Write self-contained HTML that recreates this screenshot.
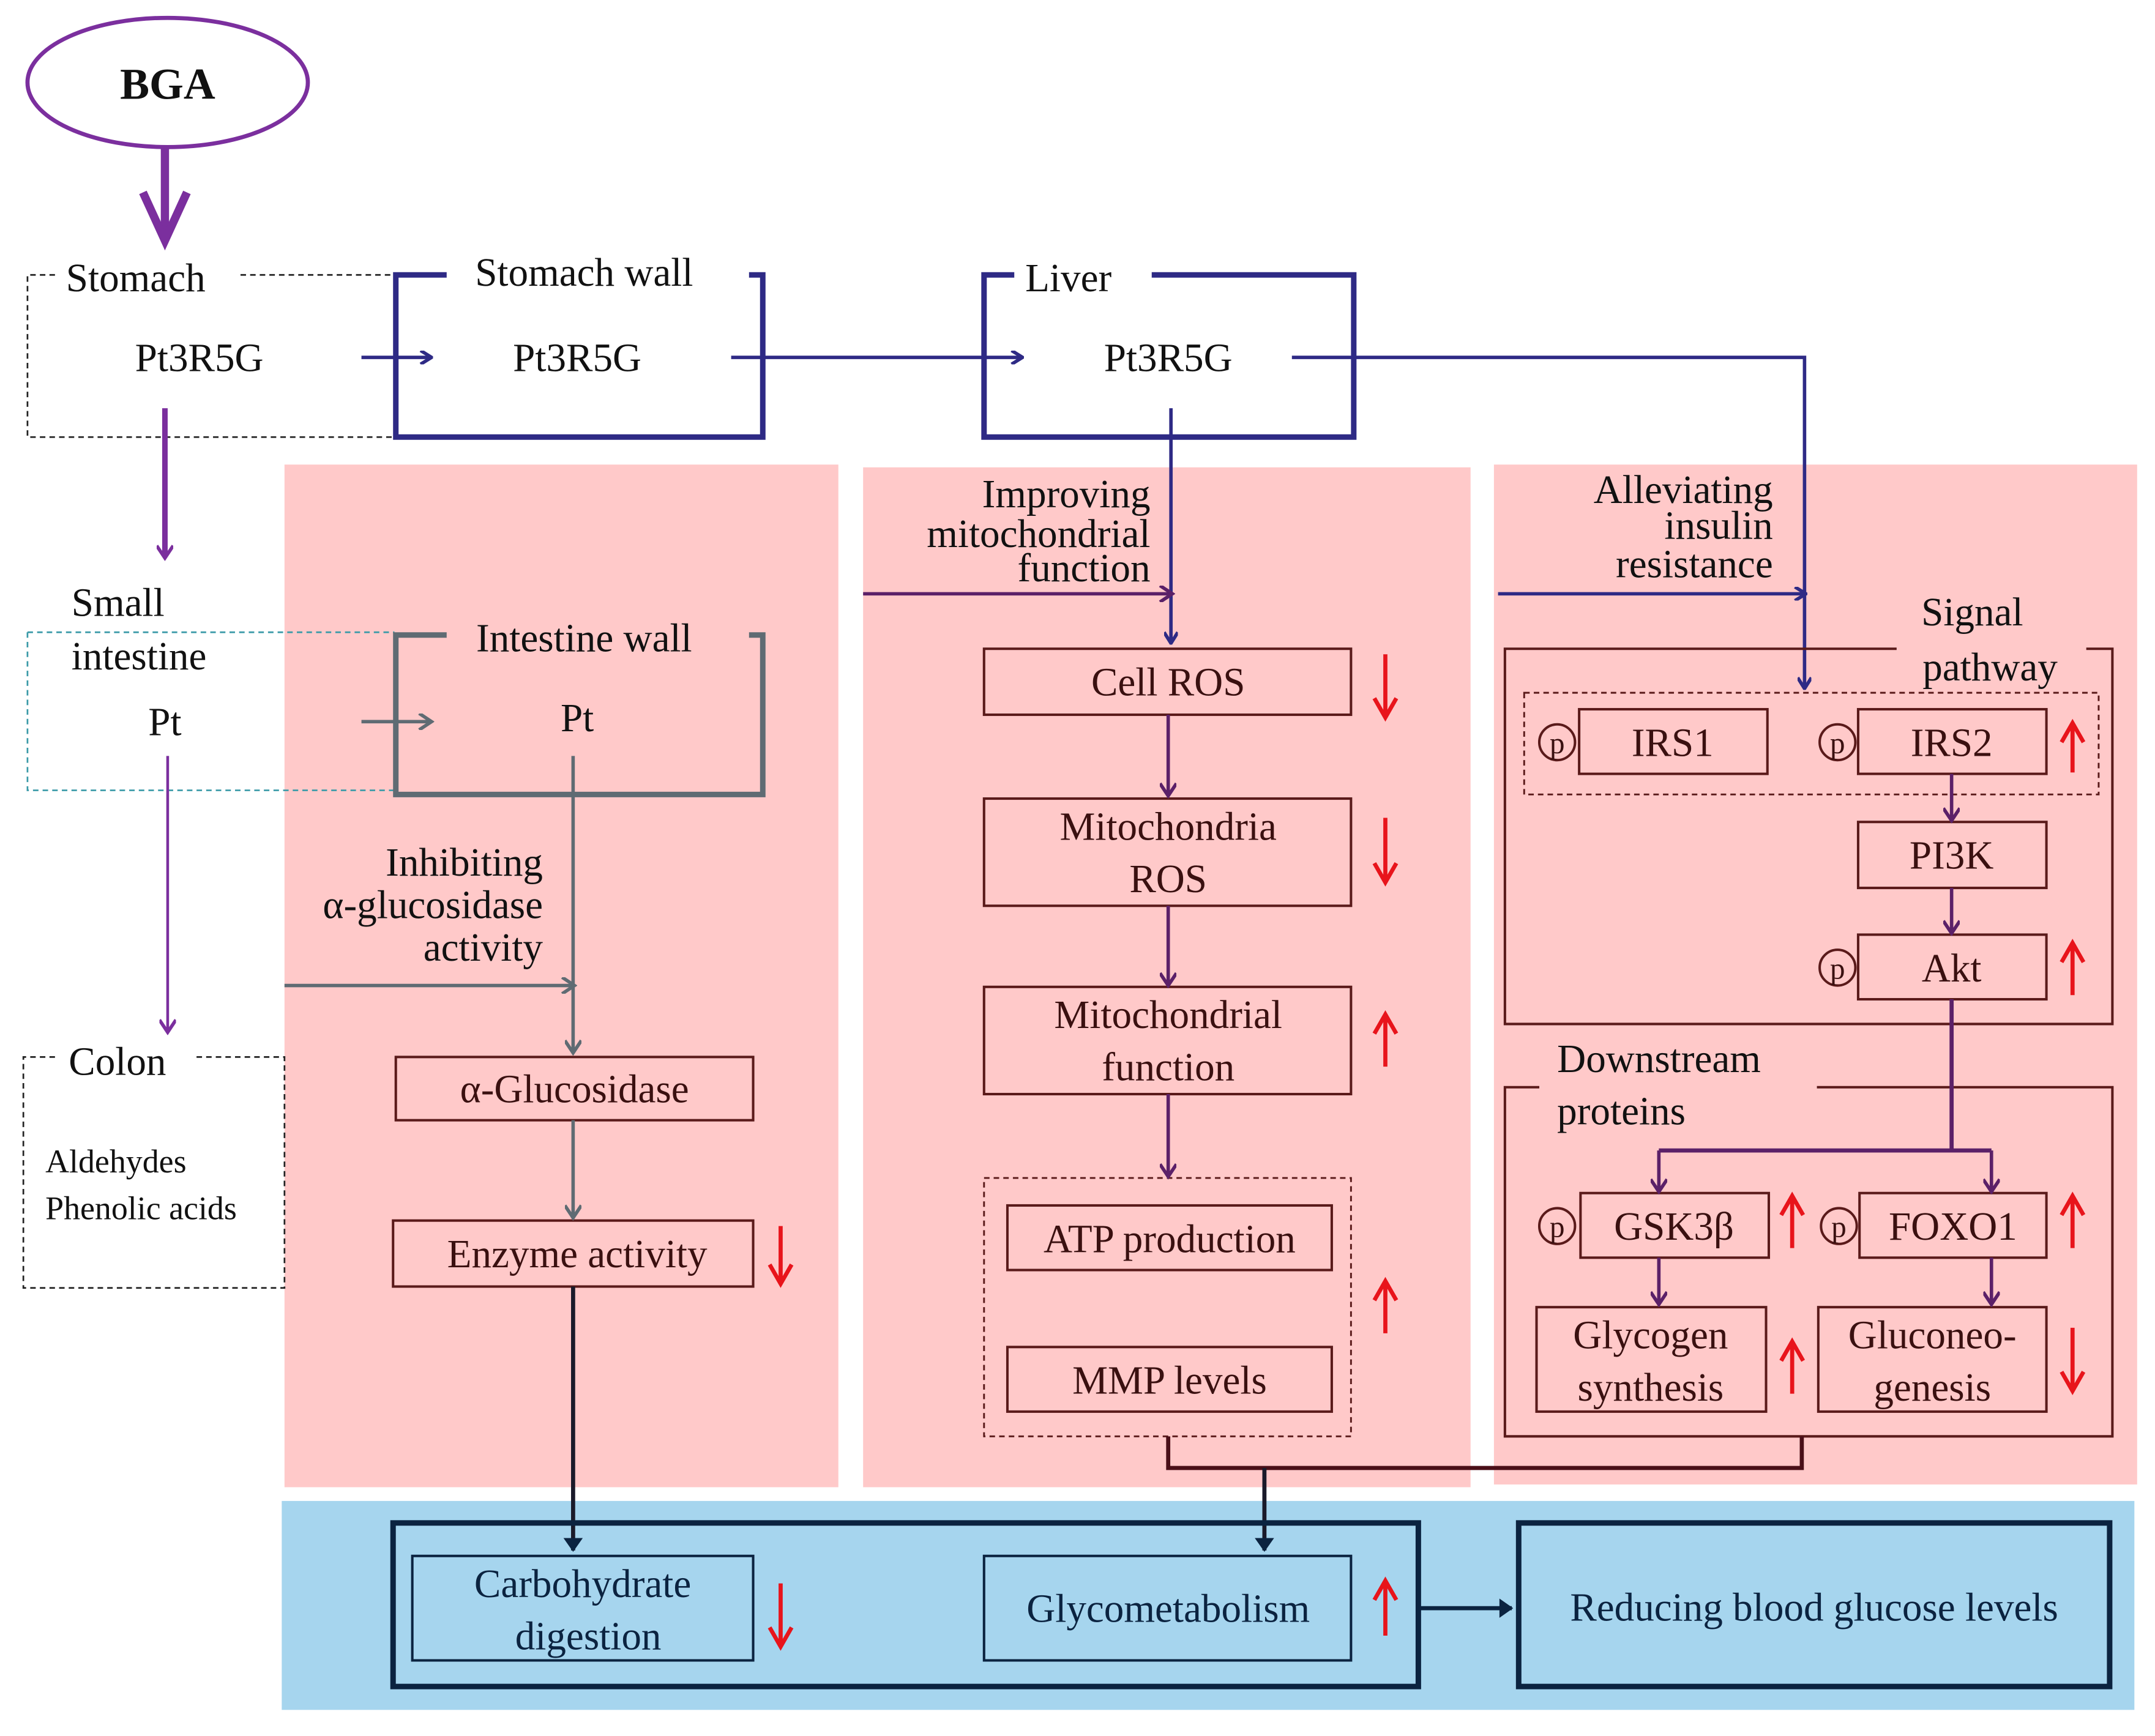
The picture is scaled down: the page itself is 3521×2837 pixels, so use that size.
<!DOCTYPE html>
<html><head><meta charset="utf-8"><style>
html,body{margin:0;padding:0;background:#fff;}
svg{display:block;}
svg, svg text{font-family:"Liberation Serif","DejaVu Serif",serif;}
</style></head><body>
<svg width="3521" height="2837" viewBox="0 0 1568 1263" preserveAspectRatio="none" xmlns="http://www.w3.org/2000/svg" font-family="'Liberation Serif', 'DejaVu Serif', serif">
<defs>
<marker id="an" markerWidth="10" markerHeight="10" refX="8" refY="5" orient="auto" markerUnits="userSpaceOnUse"><path d="M1,0 L9,5 L1,10" fill="none" stroke="#2E2A85" stroke-width="2.5"/></marker>
<marker id="ap" markerWidth="12" markerHeight="12" refX="9" refY="6" orient="auto" markerUnits="userSpaceOnUse"><path d="M1,0 L10,6 L1,12" fill="none" stroke="#7B2F9E" stroke-width="2.5"/></marker>
<marker id="am" markerWidth="12" markerHeight="12" refX="9" refY="6" orient="auto" markerUnits="userSpaceOnUse"><path d="M1,0 L10,6 L1,12" fill="none" stroke="#5B2068" stroke-width="2.5"/></marker>
<marker id="ag" markerWidth="12" markerHeight="12" refX="9" refY="6" orient="auto" markerUnits="userSpaceOnUse"><path d="M1,0 L10,6 L1,12" fill="none" stroke="#5F6B73" stroke-width="2.5"/></marker>
<marker id="ad" markerWidth="14" markerHeight="14" refX="10" refY="7" orient="auto" markerUnits="userSpaceOnUse"><path d="M1,0 L11,7 L1,14 Z" fill="#0B2340"/></marker>
</defs>
<g font-size="29" fill="#111" font-family="'Liberation Serif', 'DejaVu Serif', serif">
<rect x="207" y="338" width="403" height="744" fill="#FFC9C9"/>
<rect x="628" y="340" width="442" height="742" fill="#FFC9C9"/>
<rect x="1087" y="338" width="468" height="742" fill="#FFC9C9"/>
<rect x="205" y="1092" width="1348" height="152" fill="#A6D5EE"/>

<ellipse cx="122" cy="60" rx="102" ry="47" fill="none" stroke="#7B2F9E" stroke-width="3"/>
<text x="122" y="72" text-anchor="middle" font-weight="bold" font-size="32">BGA</text>
<line x1="120" y1="108" x2="120" y2="168" stroke="#7B2F9E" stroke-width="6"/>
<path d="M104,140 L120,175 L136,140" fill="none" stroke="#7B2F9E" stroke-width="6"/>

<path d="M40,200 H20 V318 H287 M175,200 H287" fill="none" stroke="#222" stroke-width="1.2" stroke-dasharray="4,3"/>
<text x="48" y="212">Stomach</text>
<text x="145" y="270" text-anchor="middle">Pt3R5G</text>
<line x1="263" y1="260" x2="313" y2="260" stroke="#2E2A85" stroke-width="2.5" marker-end="url(#an)"/>
<path d="M325,200 H288 V318 H555 V200 H545" fill="none" stroke="#2E2A85" stroke-width="4"/>
<text x="425" y="208" text-anchor="middle">Stomach wall</text>
<text x="420" y="270" text-anchor="middle">Pt3R5G</text>
<line x1="532" y1="260" x2="743" y2="260" stroke="#2E2A85" stroke-width="2.5" marker-end="url(#an)"/>
<path d="M738,200 H716 V318 H985 V200 H838" fill="none" stroke="#2E2A85" stroke-width="4"/>
<text x="746" y="212">Liver</text>
<text x="850" y="270" text-anchor="middle">Pt3R5G</text>
<path d="M940,260 H1313 V500" fill="none" stroke="#2E2A85" stroke-width="2.5" marker-end="url(#an)"/>
<line x1="852" y1="297" x2="852" y2="467" stroke="#2E2A85" stroke-width="2.5" marker-end="url(#an)"/>
<line x1="120" y1="297" x2="120" y2="405" stroke="#7B2F9E" stroke-width="4" marker-end="url(#ap)"/>

<text x="52" y="448">Small</text>
<text x="52" y="487">intestine</text>
<text x="120" y="535" text-anchor="middle">Pt</text>
<path d="M20,460 H287 M20,460 V575 H287" fill="none" stroke="#3A9AA8" stroke-width="1.2" stroke-dasharray="4,3"/>
<line x1="263" y1="525" x2="313" y2="525" stroke="#5F6B73" stroke-width="2.5" marker-end="url(#ag)"/>
<path d="M325,462 H288 V578 H555 V462 H545" fill="none" stroke="#5F6B73" stroke-width="4"/>
<text x="425" y="474" text-anchor="middle">Intestine wall</text>
<text x="420" y="532" text-anchor="middle">Pt</text>
<line x1="122" y1="550" x2="122" y2="750" stroke="#7B2F9E" stroke-width="2" marker-end="url(#ap)"/>

<path d="M40,769 H17 V937 H207 V769 H140" fill="none" stroke="#222" stroke-width="1.2" stroke-dasharray="4,3"/>
<text x="50" y="782">Colon</text>
<text x="33" y="853" font-size="24">Aldehydes</text>
<text x="33" y="887" font-size="24">Phenolic acids</text>

<line x1="417" y1="550" x2="417" y2="765" stroke="#5F6B73" stroke-width="2.5" marker-end="url(#ag)"/>
<text x="395" y="637" text-anchor="end">Inhibiting</text>
<text x="395" y="668" text-anchor="end">α-glucosidase</text>
<text x="395" y="699" text-anchor="end">activity</text>
<line x1="207" y1="717" x2="417" y2="717" stroke="#5F6B73" stroke-width="2.5" marker-end="url(#ag)"/>
<g fill="none" stroke="#5a1a1a" stroke-width="1.8">
<rect x="288" y="769" width="260" height="46"/>
<rect x="286" y="888" width="262" height="48"/>
<rect x="716" y="472" width="267" height="48"/>
<rect x="716" y="581" width="267" height="78"/>
<rect x="716" y="718" width="267" height="78"/>
<rect x="733" y="877" width="236" height="47"/>
<rect x="733" y="980" width="236" height="47"/>
<rect x="716" y="857" width="267" height="188" stroke-dasharray="4,3" stroke-width="1.3"/>
<path d="M1380,472 H1095 V745 H1537 V472 H1518"/>
<rect x="1109" y="504" width="418" height="74" stroke-dasharray="4,3" stroke-width="1.3"/>
<rect x="1149" y="516" width="137" height="47"/>
<rect x="1352" y="516" width="137" height="47"/>
<rect x="1352" y="598" width="137" height="48"/>
<rect x="1352" y="680" width="137" height="47"/>
<path d="M1120,791 H1095 V1045 H1537 V791 H1322"/>
<rect x="1150" y="868" width="137" height="47"/>
<rect x="1353" y="868" width="136" height="47"/>
<rect x="1118" y="951" width="167" height="76"/>
<rect x="1323" y="951" width="166" height="76"/>
<circle cx="1133" cy="540" r="13"/><circle cx="1337" cy="540" r="13"/>
<circle cx="1337" cy="704" r="13"/><circle cx="1133" cy="892" r="13"/><circle cx="1338" cy="892" r="13"/>
</g>
<g fill="#3a1010">
<text x="418" y="802" text-anchor="middle">α-Glucosidase</text>
<text x="420" y="922" text-anchor="middle">Enzyme activity</text>
<text x="850" y="506" text-anchor="middle">Cell ROS</text>
<text x="850" y="611" text-anchor="middle">Mitochondria</text>
<text x="850" y="649" text-anchor="middle">ROS</text>
<text x="850" y="748" text-anchor="middle">Mitochondrial</text>
<text x="850" y="786" text-anchor="middle">function</text>
<text x="851" y="911" text-anchor="middle">ATP production</text>
<text x="851" y="1014" text-anchor="middle">MMP levels</text>
<text x="1217" y="550" text-anchor="middle">IRS1</text>
<text x="1420" y="550" text-anchor="middle">IRS2</text>
<text x="1420" y="632" text-anchor="middle">PI3K</text>
<text x="1420" y="714" text-anchor="middle">Akt</text>
<text x="1218" y="902" text-anchor="middle">GSK3β</text>
<text x="1421" y="902" text-anchor="middle">FOXO1</text>
<text x="1201" y="981" text-anchor="middle">Glycogen</text>
<text x="1201" y="1019" text-anchor="middle">synthesis</text>
<text x="1406" y="981" text-anchor="middle">Gluconeo-</text>
<text x="1406" y="1019" text-anchor="middle">genesis</text>
<g font-size="22"><text x="1133" y="548" text-anchor="middle">p</text><text x="1337" y="548" text-anchor="middle">p</text><text x="1337" y="712" text-anchor="middle">p</text><text x="1133" y="900" text-anchor="middle">p</text><text x="1338" y="900" text-anchor="middle">p</text></g>
</g>
<line x1="417" y1="815" x2="417" y2="885" stroke="#5F6B73" stroke-width="2.5" marker-end="url(#ag)"/>
<line x1="417" y1="936" x2="417" y2="1128" stroke="#1a1a2a" stroke-width="3" marker-end="url(#ad)"/>

<text x="837" y="369" text-anchor="end">Improving</text>
<text x="837" y="398" text-anchor="end">mitochondrial</text>
<text x="837" y="423" text-anchor="end">function</text>
<line x1="628" y1="432" x2="852" y2="432" stroke="#5B2068" stroke-width="2.5" marker-end="url(#am)"/>
<g stroke="#5B2068" stroke-width="2.5" marker-end="url(#am)">
<line x1="850" y1="520" x2="850" y2="578"/>
<line x1="850" y1="659" x2="850" y2="716"/>
<line x1="850" y1="796" x2="850" y2="855"/>
<line x1="1420" y1="563" x2="1420" y2="596"/>
<line x1="1420" y1="646" x2="1420" y2="678"/>
<line x1="1207" y1="837" x2="1207" y2="866"/>
<line x1="1449" y1="837" x2="1449" y2="866"/>
<line x1="1207" y1="915" x2="1207" y2="948"/>
<line x1="1449" y1="915" x2="1449" y2="948"/>
</g>
<path d="M1420,727 V837 M1207,837 H1449" fill="none" stroke="#5B2068" stroke-width="3"/>
<path d="M850,1045 V1068 H1311 V1045" fill="none" stroke="#4a0f18" stroke-width="3"/>
<line x1="920" y1="1068" x2="920" y2="1128" stroke="#1a1a2a" stroke-width="3" marker-end="url(#ad)"/>

<text x="1290" y="366" text-anchor="end">Alleviating</text>
<text x="1290" y="392" text-anchor="end">insulin</text>
<text x="1290" y="420" text-anchor="end">resistance</text>
<line x1="1090" y1="432" x2="1313" y2="432" stroke="#2E2A85" stroke-width="2.5" marker-end="url(#an)"/>
<text x="1435" y="455" text-anchor="middle">Signal</text>
<text x="1448" y="495" text-anchor="middle">pathway</text>
<text x="1133" y="780">Downstream</text>
<text x="1133" y="818">proteins</text>

<g stroke="#E8141B" stroke-width="3" fill="none">
<path d="M568,892 V934 M560,920 L568,934 L576,920"/>
<path d="M1008,476 V522 M1000,508 L1008,522 L1016,508"/>
<path d="M1008,595 V642 M1000,628 L1008,642 L1016,628"/>
<path d="M1008,776 V738 M1000,752 L1008,738 L1016,752"/>
<path d="M1008,970 V932 M1000,946 L1008,932 L1016,946"/>
<path d="M1508,562 V526 M1500,540 L1508,526 L1516,540"/>
<path d="M1508,724 V686 M1500,700 L1508,686 L1516,700"/>
<path d="M1304,908 V870 M1296,884 L1304,870 L1312,884"/>
<path d="M1508,908 V870 M1500,884 L1508,870 L1516,884"/>
<path d="M1304,1014 V976 M1296,990 L1304,976 L1312,990"/>
<path d="M1508,966 V1012 M1500,998 L1508,1012 L1516,998"/>
<path d="M568,1152 V1198 M560,1184 L568,1198 L576,1184"/>
<path d="M1008,1190 V1150 M1000,1164 L1008,1150 L1016,1164"/>
</g>

<rect x="286" y="1108" width="746" height="119" fill="none" stroke="#0B2340" stroke-width="4"/>
<rect x="300" y="1132" width="248" height="76" fill="none" stroke="#0B2340" stroke-width="1.8"/>
<rect x="716" y="1132" width="267" height="76" fill="none" stroke="#0B2340" stroke-width="1.8"/>
<rect x="1105" y="1108" width="430" height="119" fill="none" stroke="#0B2340" stroke-width="4"/>
<line x1="1032" y1="1170" x2="1100" y2="1170" stroke="#0B2340" stroke-width="3" marker-end="url(#ad)"/>
<g fill="#0B2340">
<text x="424" y="1162" text-anchor="middle">Carbohydrate</text>
<text x="428" y="1200" text-anchor="middle">digestion</text>
<text x="850" y="1180" text-anchor="middle">Glycometabolism</text>
<text x="1320" y="1179" text-anchor="middle">Reducing blood glucose levels</text>
</g>
</g>
</svg>
</body></html>
